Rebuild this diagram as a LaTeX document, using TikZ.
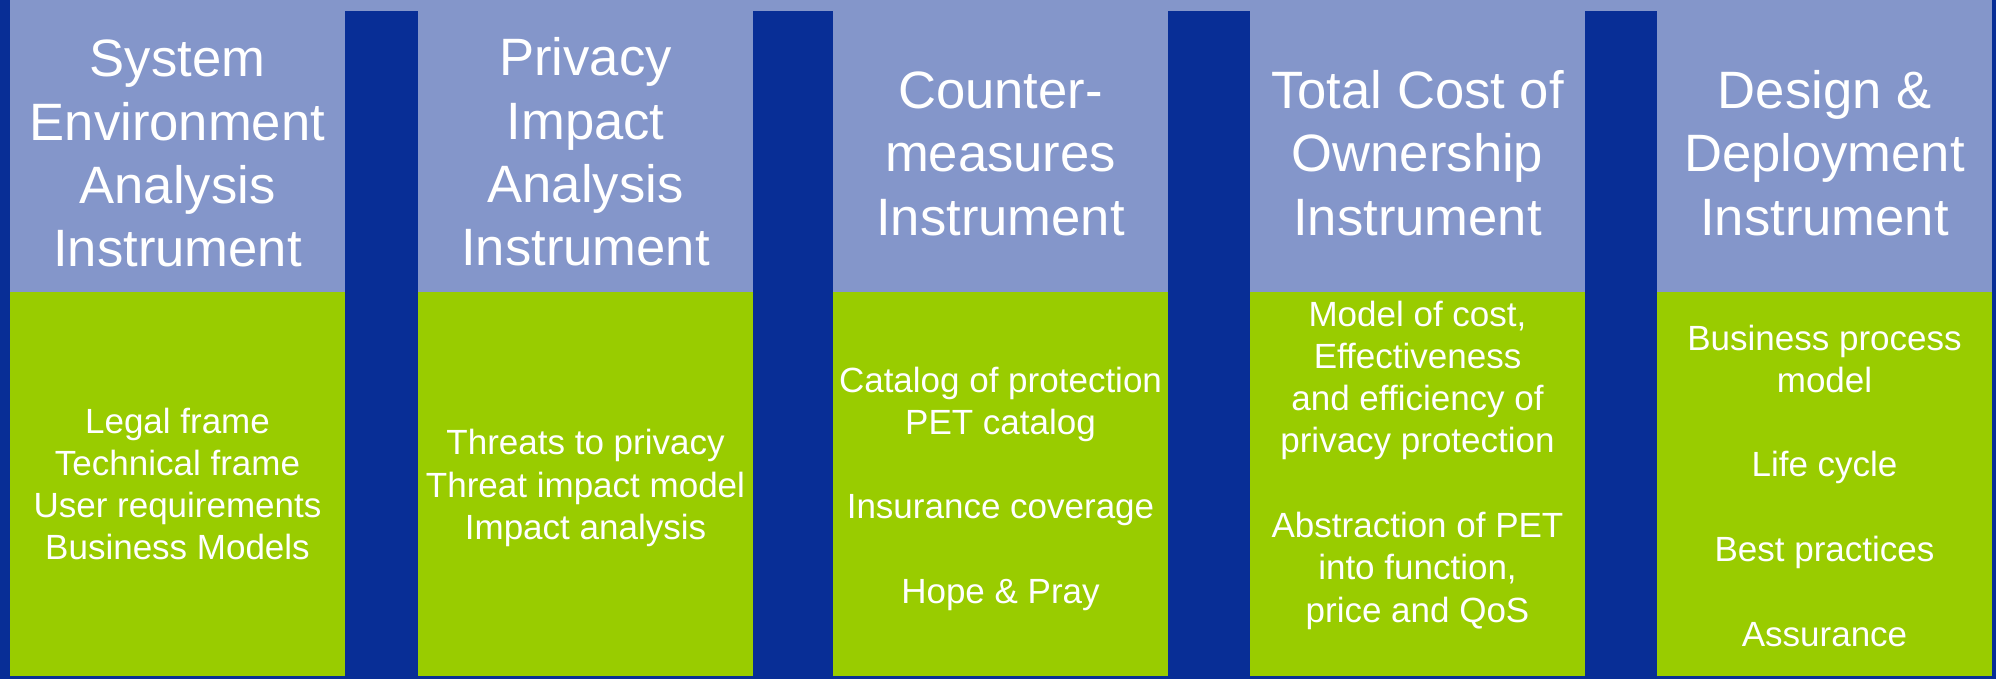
\documentclass[tikz,border=0pt]{standalone}
\usepackage{fontspec}
\setmainfont{Liberation Sans}
\definecolor{dkblue}{RGB}{8,46,150}
\definecolor{ltblue}{RGB}{132,150,202}
\definecolor{grn}{RGB}{153,204,0}
\newcommand{\hdtext}[1]{\parbox[t]{330pt}{\centering\fontsize{52.6}{63.3}\selectfont #1}}
\newcommand{\bdtext}[1]{\parbox[t]{330pt}{\centering\fontsize{35}{42.3}\selectfont #1}}
\begin{document}
\begin{tikzpicture}[x=1pt,y=-1pt,
  txt/.style={anchor=base, inner sep=0pt, outer sep=0pt, text=white},
  bar/.style={fill=dkblue},
  body/.style={fill=grn}]
\fill[dkblue] (0,0) rectangle (1996,679);
\useasboundingbox (0,0) rectangle (1996,679);
\fill[ltblue] (10,0) rectangle (1992,292);
% green bodies
\fill[body] (10,292) rectangle (345,676);
\fill[body] (418,292) rectangle (753,676);
\fill[body] (833,292) rectangle (1168,676);
\fill[body] (1250,292) rectangle (1585,676);
\fill[body] (1657,292) rectangle (1992,676);
% separator bars
\fill[bar] (345,11) rectangle (418,679);
\fill[bar] (753,11) rectangle (833,679);
\fill[bar] (1168,11) rectangle (1250,679);
\fill[bar] (1585,11) rectangle (1657,679);
% headers
\node[txt] (h1) at (177.5,77) {\hdtext{System\\Environment\\Analysis\\Instrument}};
\node[txt] (h2) at (585.5,76) {\hdtext{Privacy\\Impact\\Analysis\\Instrument}};
\node[txt] (h3) at (1000.5,108.5) {\hdtext{Counter-\\measures\\Instrument}};
\node[txt] (h4) at (1417.5,108.5) {\hdtext{Total Cost of\\Ownership\\Instrument}};
\node[txt] (h5) at (1824.5,108.5) {\hdtext{Design \&\\Deployment\\Instrument}};
% bodies
\node[txt] (b1) at (177.5,433) {\bdtext{Legal frame\\Technical frame\\User requirements\\Business Models}};
\node[txt] (b2) at (585.5,454.7) {\bdtext{Threats to privacy\\Threat impact model\\Impact analysis}};
\node[txt] (b3) at (1000.5,392) {\bdtext{Catalog of protection\\PET catalog\\[42.3pt]Insurance coverage\\[42.3pt]Hope \& Pray}};
\node[txt] (b4) at (1417.5,326) {\bdtext{Model of cost,\\Effectiveness\\and efficiency of\\privacy protection\\[42.3pt]Abstraction of PET\\into function,\\price and QoS}};
\node[txt] (b5) at (1824.5,350) {\bdtext{Business process\\model\\[42.3pt]Life cycle\\[42.3pt]Best practices\\[42.3pt]Assurance}};
\end{tikzpicture}
\end{document}
